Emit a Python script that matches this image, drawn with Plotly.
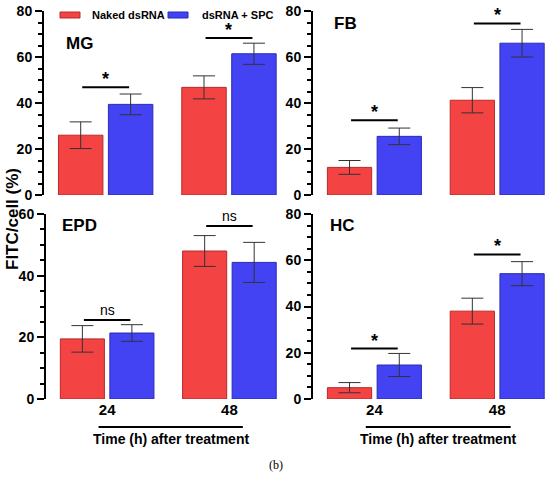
import plotly.graph_objects as go

# data
times = ["24", "48"]
panels = ["MG", "FB", "EPD", "HC"]
naked = {"MG": [26, 46.8], "FB": [12, 41.2], "EPD": [19.5, 48], "HC": [4.9, 38]}
naked_err = {"MG": [5.8, 5], "FB": [3, 5.5], "EPD": [4.3, 5], "HC": [2.2, 5.6]}
spc = {"MG": [39.4, 61.4], "FB": [25.5, 66], "EPD": [21.4, 44.3], "HC": [14.7, 54.2]}
spc_err = {"MG": [4.5, 4.6], "FB": [3.6, 6], "EPD": [2.7, 6.5], "HC": [5, 5.2]}
sig_label = {"MG": ["*", "*"], "FB": ["*", "*"], "EPD": ["ns", "ns"], "HC": ["*", "*"]}
sig_y = {"MG": [46.8, 68.3], "FB": [32.5, 74.6], "EPD": [25.6, 56.1], "HC": [21.8, 62.5]}
y_max = {"MG": 80, "FB": 80, "EPD": 60, "HC": 80}
series_names = ["Naked dsRNA", "dsRNA + SPC"]

RED = "#F44343"
BLUE = "#4343F4"
FONT = "Liberation Sans"

W, H = 550, 477
def px_x(p):
    return p / W
def px_y(p):
    return 1 - p / H

# panel boxes in pixels: (left, right, bottom, top)
boxes = {
    "MG": (44, 282, 195, 11),
    "FB": (313, 550, 195, 11),
    "EPD": (46, 282, 399, 214),
    "HC": (313, 550, 399, 214),
}
label_pos = {"MG": (64, 43), "FB": (332, 24), "EPD": (60, 225), "HC": (328, 225)}

fig = go.Figure()
shapes = []
annots = []

for i, p in enumerate(panels):
    n = "" if i == 0 else str(i + 1)
    xa, ya = "x" + n, "y" + n
    fig.add_trace(go.Bar(
        x=times, y=naked[p], name=series_names[0], xaxis=xa, yaxis=ya,
        marker=dict(color=RED, line=dict(color="#B52A2A", width=1)),
        error_y=dict(type="data", array=naked_err[p], color="#333333", thickness=1, width=11),
        showlegend=False, offsetgroup="a",
    ))
    fig.add_trace(go.Bar(
        x=times, y=spc[p], name=series_names[1], xaxis=xa, yaxis=ya,
        marker=dict(color=BLUE, line=dict(color="#2A2AB5", width=1)),
        error_y=dict(type="data", array=spc_err[p], color="#333333", thickness=1, width=11),
        showlegend=False, offsetgroup="b",
    ))
    l, r, b, t = boxes[p]
    bottom = p in ("EPD", "HC")
    fig.update_layout(**{
        "xaxis" + n: dict(
            domain=[px_x(l), px_x(r)], anchor=ya, range=[-0.5, 1.43], automargin=False,
            showline=False, showgrid=False, zeroline=False, ticks="",
            showticklabels=bottom,
            tickfont=dict(family=FONT, size=15, color="black", weight="bold"),
        ),
        "yaxis" + n: dict(
            domain=[px_y(b), px_y(t)], anchor=xa, range=[0, y_max[p]], automargin=False,
            showline=True, linewidth=2, linecolor="black", showgrid=False, zeroline=False,
            ticks="outside", ticklen=7, tickwidth=2, tickcolor="black", dtick=20,
            minor=dict(dtick=5, ticks="outside", ticklen=4, tickwidth=1.5, tickcolor="black"),
            tickfont=dict(family=FONT, size=14, color="black", weight="bold"),
        ),
    })
    for k in range(2):
        shapes.append(dict(type="line", xref=xa, yref=ya, x0=k - 0.19, x1=k + 0.19,
                           y0=sig_y[p][k], y1=sig_y[p][k], line=dict(color="black", width=2)))
        star = sig_label[p][k] == "*"
        annots.append(dict(xref=xa, yref=ya, x=k, y=sig_y[p][k], text=sig_label[p][k],
                           showarrow=False, yanchor="bottom", yshift=-4 if star else 0,
                           font=dict(family=FONT, size=18 if star else 14, color="black",
                                     weight="bold" if star else "normal")))
    lx, ly = label_pos[p]
    annots.append(dict(xref="paper", yref="paper", x=px_x(lx), y=px_y(ly), text=p,
                       showarrow=False, xanchor="left", yanchor="middle",
                       font=dict(family=FONT, size=17, color="black", weight="bold")))
    if bottom:
        shapes.append(dict(type="line", xref=xa, yref="paper", x0=-0.07, x1=1.11,
                           y0=px_y(427), y1=px_y(427), line=dict(color="black", width=2)))
        annots.append(dict(xref=xa, yref="paper", x=0.52, y=px_y(439), text="Time (h) after treatment",
                           showarrow=False, xanchor="center", yanchor="middle",
                           font=dict(family=FONT, size=14, color="black", weight="bold")))

# legend: flat swatches like the original
for (sx, tx), col, edge, name in zip([(60, 90), (168, 200)], [RED, BLUE],
                                      ["#B52A2A", "#2A2AB5"], series_names):
    shapes.append(dict(type="rect", xref="paper", yref="paper",
                       x0=px_x(sx), x1=px_x(sx + 20), y0=px_y(18), y1=px_y(12),
                       fillcolor=col, line=dict(color=edge, width=1)))
    annots.append(dict(xref="paper", yref="paper", x=px_x(tx), y=px_y(15), text=name,
                       showarrow=False, xanchor="left", yanchor="middle",
                       font=dict(family=FONT, size=11, color="black", weight="bold")))

annots.append(dict(xref="paper", yref="paper", x=px_x(12), y=px_y(219), text="FITC/cell (%)",
                   textangle=-90, showarrow=False, xanchor="center", yanchor="middle",
                   font=dict(family=FONT, size=17, color="black", weight="bold")))
annots.append(dict(xref="paper", yref="paper", x=px_x(276), y=px_y(465), text="(b)",
                   showarrow=False, xanchor="center", yanchor="middle",
                   font=dict(family="Liberation Serif", size=12, color="black")))

fig.update_layout(
    width=W, height=H, margin=dict(l=0, r=0, t=0, b=0),
    paper_bgcolor="white", plot_bgcolor="white",
    barmode="group", bargap=0.19, bargroupgap=0.11,
    shapes=shapes, annotations=annots, showlegend=False,
)

# the page's default body margin would push the 550x477 figure off the window
fig.write_html("out.html", config={"displayModeBar": False},
               post_script="document.body.style.margin = '0';")
